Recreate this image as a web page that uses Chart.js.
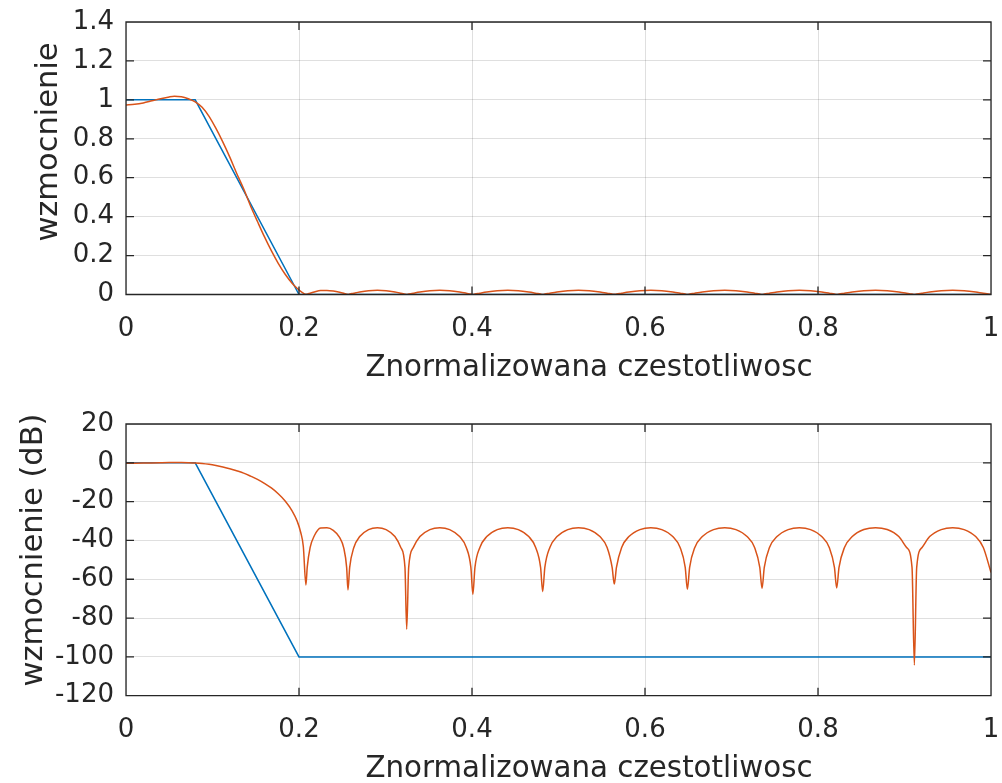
<!DOCTYPE html>
<html>
<head>
<meta charset="utf-8">
<script src="https://cdn.jsdelivr.net/npm/chart.js@4/dist/chart.umd.min.js"></script>
<style>
  html, body { margin: 0; padding: 0; background: #ffffff; }
  #wrap { position: relative; width: 1002px; height: 783px; overflow: hidden; }
  .panel { position: absolute; left: 0; width: 1002px; }
</style>
</head>
<body>
<div id="wrap">
  <div class="panel" style="top:0;height:391px"><canvas id="lin" width="1002" height="391"></canvas></div>
  <div class="panel" style="top:391px;height:392px"><canvas id="db" width="1002" height="392"></canvas></div>
</div>
<script>
// Ideal (target) response: normalized frequency, gain, gain in dB
const idealFreq = [0, 0.08, 0.2, 1];
const idealGain = [1, 1, 0, 0];
const idealDb   = [0, 0, -100, -100];

// Designed filter response: normalized frequency
const filtFreq = [
  0.000, 0.010, 0.020, 0.030, 0.040, 0.050, 0.056, 0.064, 0.072, 0.080,
  0.088, 0.096, 0.104, 0.112, 0.120, 0.128, 0.136, 0.144, 0.152, 0.160,
  0.168, 0.176, 0.184, 0.192, 0.198, 0.202, 0.205, 0.2080,
  0.2095, 0.2129, 0.2177, 0.2250, 0.2323, 0.2396, 0.2469, 0.2517, 0.2551, 0.2566,
  0.2586, 0.2634, 0.2702, 0.2804, 0.2906, 0.3007, 0.3109, 0.3177, 0.3225, 0.3245,
  0.3268, 0.3322, 0.3398, 0.3513, 0.3628, 0.3742, 0.3857, 0.3934, 0.3987, 0.4010,
  0.4034, 0.4091, 0.4171, 0.4292, 0.4414, 0.4535, 0.4656, 0.4736, 0.4793, 0.4817,
  0.4842, 0.4900, 0.4983, 0.5107, 0.5231, 0.5355, 0.5479, 0.5562, 0.5620, 0.5645,
  0.5670, 0.5730, 0.5814, 0.5941, 0.6068, 0.6194, 0.6321, 0.6406, 0.6465, 0.6490,
  0.6516, 0.6576, 0.6663, 0.6792, 0.6922, 0.7051, 0.7180, 0.7267, 0.7327, 0.7353,
  0.7379, 0.7439, 0.7526, 0.7655, 0.7785, 0.7914, 0.8043, 0.8130, 0.8190, 0.8216,
  0.8243, 0.8306, 0.8396, 0.8530, 0.8665, 0.8800, 0.8934, 0.9024, 0.9087, 0.9114,
  0.9141, 0.9203, 0.9291, 0.9424, 0.9557, 0.9690, 0.9823, 0.9911, 1.0000
];

// Designed filter response: linear gain
const filtGain = [
  0.974, 0.977, 0.984, 0.995, 1.006, 1.015, 1.018, 1.016, 1.006, 0.990,
  0.962, 0.915, 0.853, 0.783, 0.706, 0.622, 0.543, 0.455, 0.375, 0.297,
  0.225, 0.160, 0.104, 0.058, 0.031, 0.016, 0.007, 0.0007,
  0.0020, 0.0066, 0.0132, 0.0209, 0.0211, 0.0182, 0.0120, 0.0065, 0.0020, 0.0005,
  0.0020, 0.0066, 0.0126, 0.0191, 0.0214, 0.0191, 0.0126, 0.0066, 0.0020, 0.0001,
  0.0020, 0.0066, 0.0126, 0.0191, 0.0214, 0.0191, 0.0126, 0.0066, 0.0020, 0.0004,
  0.0020, 0.0066, 0.0126, 0.0191, 0.0214, 0.0191, 0.0126, 0.0066, 0.0020, 0.0005,
  0.0020, 0.0066, 0.0126, 0.0191, 0.0214, 0.0191, 0.0126, 0.0066, 0.0020, 0.0007,
  0.0020, 0.0066, 0.0126, 0.0191, 0.0214, 0.0191, 0.0126, 0.0066, 0.0020, 0.0005,
  0.0020, 0.0066, 0.0126, 0.0191, 0.0214, 0.0191, 0.0126, 0.0066, 0.0020, 0.0006,
  0.0020, 0.0066, 0.0126, 0.0191, 0.0214, 0.0191, 0.0126, 0.0066, 0.0020, 0.0006,
  0.0020, 0.0066, 0.0126, 0.0191, 0.0214, 0.0191, 0.0126, 0.0066, 0.0020, 0.0000,
  0.0020, 0.0066, 0.0126, 0.0191, 0.0214, 0.0191, 0.0126, 0.0066, 0.0015
];

// Designed filter response: gain in dB
const filtDb = [
  -0.23, -0.20, -0.14, -0.04, 0.05, 0.13, 0.16, 0.14, 0.05, -0.09,
  -0.34, -0.77, -1.38, -2.13, -3.02, -4.12, -5.30, -6.84, -8.52, -10.54,
  -12.96, -15.92, -19.66, -24.73, -30.17, -35.92, -43.10, -63.0,
  -53.9, -43.6, -37.6, -33.6, -33.5, -34.8, -38.4, -43.8, -54.0, -65.5,
  -53.9, -43.6, -38.0, -34.4, -33.4, -34.4, -38.0, -43.6, -53.9, -85.7,
  -53.9, -43.6, -38.0, -34.4, -33.4, -34.4, -38.0, -43.6, -53.9, -67.8,
  -53.9, -43.6, -38.0, -34.4, -33.4, -34.4, -38.0, -43.6, -53.9, -66.4,
  -53.9, -43.6, -38.0, -34.4, -33.4, -34.4, -38.0, -43.6, -53.9, -62.5,
  -53.9, -43.6, -38.0, -34.4, -33.4, -34.4, -38.0, -43.6, -53.9, -65.2,
  -53.9, -43.6, -38.0, -34.4, -33.4, -34.4, -38.0, -43.6, -53.9, -64.7,
  -53.9, -43.6, -38.0, -34.4, -33.4, -34.4, -38.0, -43.6, -53.9, -64.5,
  -53.9, -43.6, -38.0, -34.4, -33.4, -34.4, -38.0, -43.6, -53.9, -104.2,
  -53.9, -43.6, -38.0, -34.4, -33.4, -34.4, -38.0, -43.6, -56.5
];

// Tick positions
const freqTicks = [0, 0.2, 0.4, 0.6, 0.8, 1];
const gainTicks = [0, 0.2, 0.4, 0.6, 0.8, 1, 1.2, 1.4];
const dbTicks   = [-120, -100, -80, -60, -40, -20, 0, 20];

const xTitle = 'Znormalizowana czestotliwosc';
const BLUE = '#0072BD';
const ORANGE = '#D95319';
const INK = '#262626';
const GRID = 'rgba(38,38,38,0.15)';
const FONT = 'DejaVu Sans';
const tickFont = { family: FONT, size: 26 };

function pts(xs, ys) { return xs.map((x, i) => ({ x: x, y: ys[i] })); }

// Axes box with inward tick marks on all four sides
const axesBox = {
  id: 'axesBox',
  afterDatasetsDraw(chart) {
    const { ctx, chartArea: a, scales } = chart;
    const L = 8;
    ctx.save();
    ctx.strokeStyle = INK;
    ctx.lineWidth = 1.3;
    ctx.beginPath();
    ctx.rect(a.left, a.top, a.right - a.left, a.bottom - a.top);
    scales.x.ticks.forEach(t => {
      const px = scales.x.getPixelForValue(t.value);
      ctx.moveTo(px, a.bottom); ctx.lineTo(px, a.bottom - L);
      ctx.moveTo(px, a.top); ctx.lineTo(px, a.top + L);
    });
    scales.y.ticks.forEach(t => {
      const py = scales.y.getPixelForValue(t.value);
      ctx.moveTo(a.left, py); ctx.lineTo(a.left + L, py);
      ctx.moveTo(a.right, py); ctx.lineTo(a.right - L, py);
    });
    ctx.stroke();
    ctx.restore();
  }
};

// Axis labels (x label and rotated y label)
const axisLabels = {
  id: 'axisLabels',
  afterDraw(chart, args, o) {
    const ctx = chart.ctx;
    ctx.save();
    ctx.fillStyle = INK;
    ctx.textBaseline = 'alphabetic';
    ctx.textAlign = 'center';
    ctx.font = o.xSize + 'px "' + FONT + '"';
    ctx.fillText(xTitle, o.xCenter, o.xBase);
    ctx.translate(o.yBase, o.yCenter);
    ctx.rotate(-Math.PI / 2);
    ctx.font = o.ySize + 'px "' + FONT + '"';
    ctx.fillText(o.yText, 0, 0);
    ctx.restore();
  }
};

function zeroPad(s) { s.paddingTop = 0; s.paddingBottom = 0; s.paddingLeft = 0; s.paddingRight = 0; }

function makeChart(id, cfg) {
  return new Chart(document.getElementById(id), {
    type: 'line',
    data: {
      datasets: [
        { data: pts(filtFreq, cfg.filt), borderColor: ORANGE, borderWidth: 1.5,
          pointRadius: 0, cubicInterpolationMode: 'monotone', order: 0 },
        { data: pts(idealFreq, cfg.ideal), borderColor: BLUE, borderWidth: 1.5,
          pointRadius: 0, tension: 0, order: 1 }
      ]
    },
    options: {
      responsive: false,
      animation: false,
      devicePixelRatio: 1,
      events: [],
      layout: { autoPadding: false, padding: { top: cfg.padTop, right: 11, left: 0, bottom: 0 } },
      plugins: {
        legend: { display: false }, tooltip: { enabled: false },
        axisLabels: cfg.labels
      },
      scales: {
        x: {
          type: 'linear', min: 0, max: 1,
          afterBuildTicks: s => { s.ticks = freqTicks.map(v => ({ value: v })); },
          afterFit: s => { s.height = cfg.xHeight; zeroPad(s); },
          ticks: { callback: v => String(v), font: tickFont, color: INK, padding: 19,
                   maxRotation: 0, autoSkip: false },
          grid: { color: GRID, lineWidth: 1, drawTicks: false },
          border: { display: false }
        },
        y: {
          type: 'linear', min: cfg.yMin, max: cfg.yMax,
          afterBuildTicks: s => { s.ticks = cfg.yTicks.map(v => ({ value: v })); },
          afterFit: s => { s.width = 126; zeroPad(s); },
          ticks: { callback: v => String(v), font: tickFont, color: INK, padding: 12, autoSkip: false },
          grid: { color: GRID, lineWidth: 1, drawTicks: false },
          border: { display: false }
        }
      }
    },
    plugins: [axesBox, axisLabels]
  });
}

makeChart('lin', {
  filt: filtGain, ideal: idealGain, yMin: 0, yMax: 1.4, yTicks: gainTicks,
  padTop: 22, xHeight: 96.5,
  labels: { xSize: 29.3, xCenter: 589, xBase: 376, ySize: 30.5, yText: 'wzmocnienie', yCenter: 142, yBase: 57 }
});
makeChart('db', {
  filt: filtDb, ideal: idealDb, yMin: -120, yMax: 20, yTicks: dbTicks,
  padTop: 33, xHeight: 87.3,
  labels: { xSize: 29.3, xCenter: 589, xBase: 386, ySize: 30.5, yText: 'wzmocnienie (dB)', yCenter: 159, yBase: 42 }
});
</script>
</body>
</html>
